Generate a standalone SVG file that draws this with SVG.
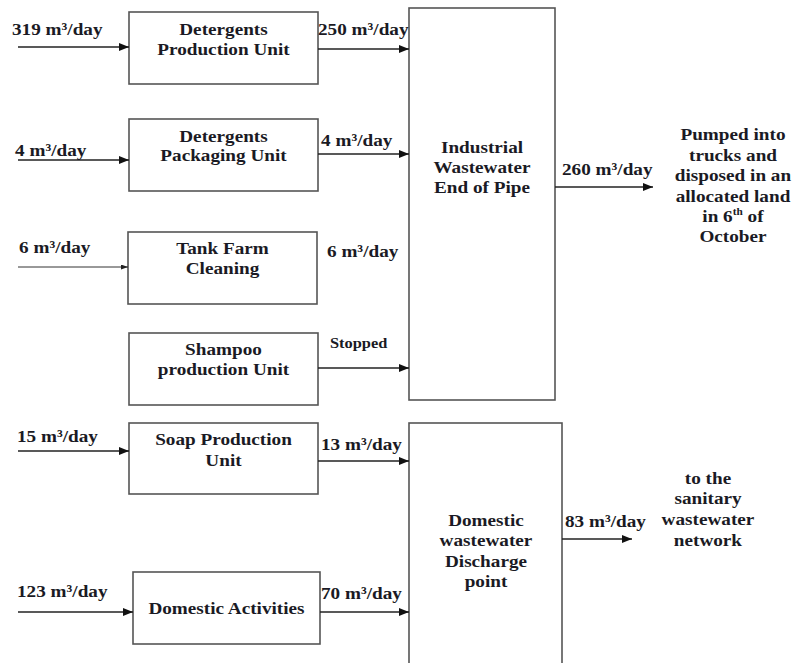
<svg xmlns="http://www.w3.org/2000/svg" width="794" height="663" viewBox="0 0 794 663">
<style>
.bg{fill:#ffffff}
.box{fill:#ffffff;stroke:#555555;stroke-width:1.6}
.ln{fill:none;stroke:#222222;stroke-width:1.5}
.thin{fill:none;stroke:#333333;stroke-width:1}
.t{font-family:"Liberation Serif","Times New Roman",serif;font-weight:bold;font-size:17px;fill:#1a1a24}
.m{text-anchor:middle;transform-box:fill-box;transform-origin:center;transform:scaleX(1.13)}
.s{text-anchor:start;transform-box:fill-box;transform-origin:left center;transform:scaleX(1.13)}
.sm{font-size:14.5px}
.sup{font-size:10px}
</style>
<defs>
<marker id="ah" markerUnits="userSpaceOnUse" markerWidth="10" markerHeight="8" refX="10" refY="4" orient="auto">
<path d="M0,0 L10,4 L0,8 z" fill="#111111"/>
</marker>
<marker id="ahs" markerUnits="userSpaceOnUse" markerWidth="7" markerHeight="5" refX="7" refY="2.5" orient="auto">
<path d="M0,0 L7,2.5 L0,5 z" fill="#222222"/>
</marker>
</defs>
<rect class="bg" x="0" y="0" width="794" height="663"/>

<g id="n-detergents-production">
<rect class="box" x="129" y="12" width="189" height="72"/>
<text class="t m" x="223.5" y="35">Detergents</text>
<text class="t m" x="223.5" y="55">Production Unit</text>
</g>
<g id="n-detergents-packaging">
<rect class="box" x="129" y="119" width="189" height="72"/>
<text class="t m" x="223.5" y="142">Detergents</text>
<text class="t m" x="223.5" y="161">Packaging Unit</text>
</g>
<g id="n-tank-farm">
<rect class="box" x="128" y="232" width="189" height="72"/>
<text class="t m" x="222.5" y="254">Tank Farm</text>
<text class="t m" x="222.5" y="274">Cleaning</text>
</g>
<g id="n-shampoo">
<rect class="box" x="129" y="333" width="189" height="72"/>
<text class="t m" x="223.5" y="355">Shampoo</text>
<text class="t m" x="223.5" y="375">production Unit</text>
</g>
<g id="n-soap">
<rect class="box" x="129" y="423" width="189" height="71"/>
<text class="t m" x="223.5" y="445">Soap Production</text>
<text class="t m" x="223.5" y="466">Unit</text>
</g>
<g id="n-domestic-activities">
<rect class="box" x="133" y="572" width="187" height="72"/>
<text class="t m" x="226.5" y="614">Domestic Activities</text>
</g>
<g id="n-industrial-end">
<rect class="box" x="409" y="8" width="146" height="392"/>
<text class="t m" x="482" y="153">Industrial</text>
<text class="t m" x="482" y="173">Wastewater</text>
<text class="t m" x="482" y="193">End of Pipe</text>
</g>
<g id="n-domestic-discharge">
<rect class="box" x="409" y="423" width="153" height="260"/>
<text class="t m" x="486" y="526">Domestic</text>
<text class="t m" x="486" y="546">wastewater</text>
<text class="t m" x="486" y="567">Discharge</text>
<text class="t m" x="486" y="587">point</text>
</g>
<g id="n-pumped">
<text class="t m" x="733" y="140">Pumped into</text>
<text class="t m" x="733" y="161">trucks and</text>
<text class="t m" x="733" y="181">disposed in an</text>
<text class="t m" x="733" y="202">allocated land</text>
<text class="t m" x="733" y="222">in 6<tspan class="sup" dy="-7">th</tspan><tspan dy="7"> of</tspan></text>
<text class="t m" x="733" y="242">October</text>
</g>
<g id="n-sanitary">
<text class="t m" x="708" y="484">to the</text>
<text class="t m" x="708" y="504">sanitary</text>
<text class="t m" x="708" y="525">wastewater</text>
<text class="t m" x="708" y="546">network</text>
</g>

<g id="connectors">
<line class="ln" x1="18" y1="47" x2="129" y2="47" marker-end="url(#ah)"/>
<line class="ln" x1="318" y1="49" x2="409" y2="49" marker-end="url(#ah)"/>
<line class="ln" x1="18" y1="160" x2="129" y2="160" marker-end="url(#ah)"/>
<line class="ln" x1="318" y1="154" x2="409" y2="154" marker-end="url(#ah)"/>
<line class="thin" x1="18" y1="267" x2="128" y2="267" marker-end="url(#ahs)"/>
<line class="ln" x1="318" y1="368" x2="409" y2="368" marker-end="url(#ah)"/>
<line class="ln" x1="18" y1="451" x2="129" y2="451" marker-end="url(#ah)"/>
<line class="ln" x1="318" y1="461" x2="409" y2="461" marker-end="url(#ah)"/>
<line class="ln" x1="18" y1="612" x2="133" y2="612" marker-end="url(#ah)"/>
<line class="ln" x1="320" y1="612" x2="409" y2="612" marker-end="url(#ah)"/>
<line class="ln" x1="555" y1="187" x2="653" y2="187" marker-end="url(#ah)"/>
<line class="ln" x1="562" y1="539" x2="632" y2="539" marker-end="url(#ah)"/>

<text class="t s" x="12" y="35">319 m³/day</text>
<text class="t s" x="318" y="35">250 m³/day</text>
<text class="t s" x="15" y="156">4 m³/day</text>
<text class="t s" x="321" y="146">4 m³/day</text>
<text class="t s" x="19" y="253">6 m³/day</text>
<text class="t s" x="327" y="257">6 m³/day</text>
<text class="t s sm" x="330" y="348">Stopped</text>
<text class="t s" x="17" y="442">15 m³/day</text>
<text class="t s" x="321" y="450">13 m³/day</text>
<text class="t s" x="17" y="597">123 m³/day</text>
<text class="t s" x="321" y="599">70 m³/day</text>
<text class="t s" x="562" y="175">260 m³/day</text>
<text class="t s" x="565" y="527">83 m³/day</text>
</g>
</svg>
